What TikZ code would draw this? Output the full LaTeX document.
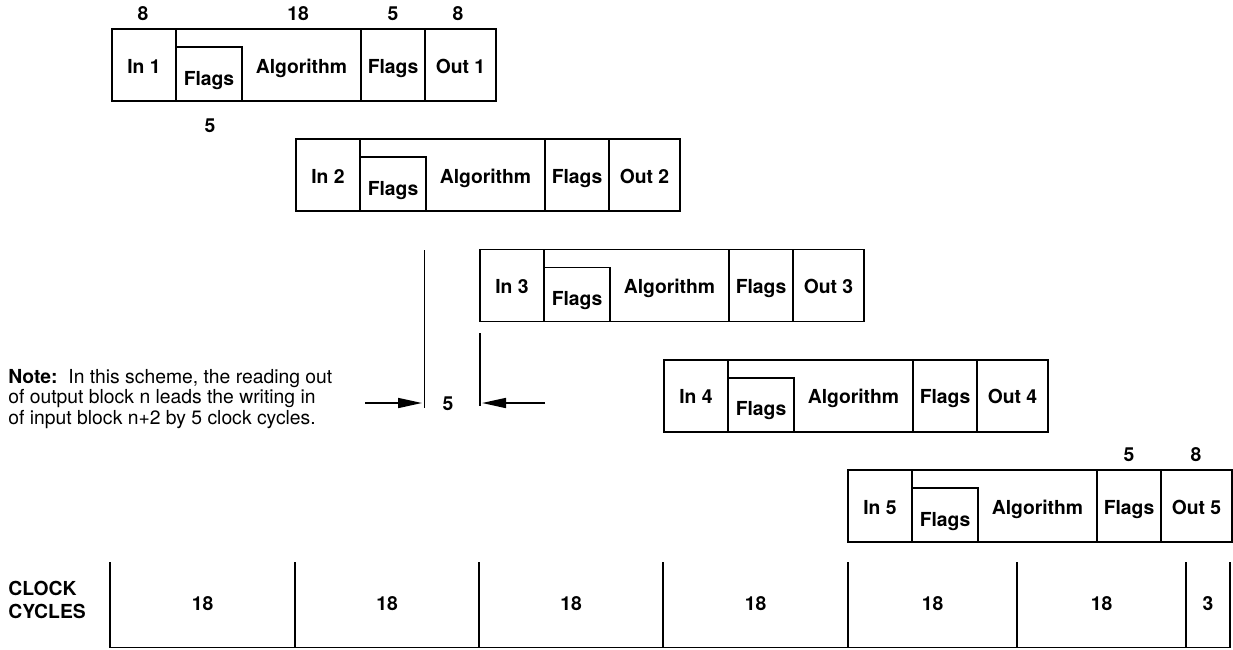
\documentclass[tikz,border=0pt]{standalone}
\usepackage{fontspec}
\setmainfont{TeX Gyre Heros}
\usetikzlibrary{arrows.meta, calc}

\tikzset{
  lbl/.style={font=\fontsize{11}{13}\selectfont\bfseries, inner sep=0pt, anchor=base},
  num/.style={font=\fontsize{11}{13}\selectfont\bfseries, inner sep=0pt, anchor=base},
  blk/.style={line width=0.95pt},
  dimarrow/.style={-{Triangle[length=0.48cm,width=0.2cm]}, line width=0.95pt}
}

\begin{document}
\begin{tikzpicture}[x=0.02cm, y=-0.02cm]
  \useasboundingbox (0,0) rectangle (1233,649);
  % five overlapping processing blocks
  \foreach \i in {1,...,5} {
    \pgfmathsetmacro{\bx}{112+184*(\i-1)}
    \pgfmathsetmacro{\by}{29+110.25*(\i-1)}
    \begin{scope}[shift={(\bx,\by)}]
      \draw[blk] (0,0) rectangle (384,72);
      \draw[blk] (64,0) -- (64,72) (249,0) -- (249,72) (313,0) -- (313,72);
      \draw[blk] (64,18) -| (130,72);
      \node[lbl] (in\i) at (32,44) {In \i};
      \node[lbl] (fin\i) at (97,56) {Flags};
      \node[lbl] (alg\i) at (189.5,44) {Algorithm};
      \node[lbl] (fout\i) at (281,44) {Flags};
      \node[lbl] (out\i) at (348.5,44) {Out \i};
    \end{scope}
  }
  % widths in clock cycles
  \node[num] (win) at (143,20) {8};
  \node[num] (walg) at (298,20) {18};
  \node[num] (wfout) at (393,20) {5};
  \node[num] (wout) at (458,20) {8};
  \node[num] (wfin) at (210,132) {5};
  \node[num] (wfoutb) at (1129,461) {5};
  \node[num] (woutb) at (1196,461) {8};
  % lead of output n over input n+2
  \coordinate (outedge) at (424.5,250);
  \coordinate (outfoot) at (424.5,408);
  \coordinate (inedge) at (480,333);
  \coordinate (infoot) at (480,406);
  \coordinate (tailL) at (365,403);
  \coordinate (tipL) at (422,403);
  \coordinate (tailR) at (545,403);
  \coordinate (tipR) at (482,403);
  \draw[blk] (outedge) -- (outfoot);
  \draw[blk] (inedge) -- (infoot);
  \draw[dimarrow] (tailL) -- (tipL);
  \draw[dimarrow] (tailR) -- (tipR);
  \node[num] (lead) at (448,410) {5};
  \node[anchor=base west, align=left, inner sep=0pt,
        font=\fontsize{11}{11.4}\selectfont] (note) at (8,424)
    {{\bfseries Note:}\ \ In this scheme, the reading out\\
     of output block n leads the writing in\\
     of input block n+2 by 5 clock cycles.};
  % clock cycle scale
  \node[num, anchor=base west, align=left, font=\fontsize{11}{12.8}\selectfont\bfseries] (clk) at (8,618) {CLOCK\\CYCLES};
  \foreach \x in {110,295,479,663,848,1017,1186,1230}
    \draw[blk] (\x,562) -- (\x,647.5);
  \draw[blk] (110,647.5) -- (1230,647.5);
  \foreach \a/\b/\t [count=\k] in {110/295/18,295/479/18,479/663/18,663/848/18,848/1017/18,1017/1186/18,1186/1230/3}
    \node[num] (cyc\k) at ({(\a+\b)/2},610) {\t};
\end{tikzpicture}
\end{document}
